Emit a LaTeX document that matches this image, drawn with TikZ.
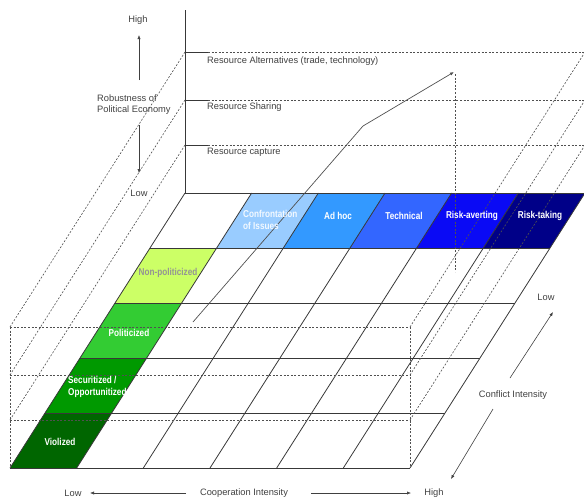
\documentclass[tikz,border=0pt]{standalone}
\usepackage{fontspec}
\setmainfont{Liberation Sans}
\newfontfamily\cellfont{Liberation Sans}[FakeStretch=0.82]
\usetikzlibrary{arrows.meta}
\definecolor{txt}{HTML}{404040}
\definecolor{gridc}{HTML}{383838}
\definecolor{dashc}{HTML}{505050}
\definecolor{bA}{HTML}{99CCFF}
\definecolor{bB}{HTML}{3399FF}
\definecolor{bC}{HTML}{3366FF}
\definecolor{bD}{HTML}{0A0AF5}
\definecolor{bE}{HTML}{000088}
\definecolor{gA}{HTML}{CCFF66}
\definecolor{gB}{HTML}{33CC33}
\definecolor{gC}{HTML}{009900}
\definecolor{gD}{HTML}{006600}
\tikzset{
  gridline/.style={draw=gridc, line width=0.8pt},
  boxdash/.style={draw=dashc, line width=0.6pt, dash pattern=on 2pt off 1.6pt},
  lbl/.style={text=txt, inner sep=0pt, font=\fontsize{9.3}{11}\selectfont},
  cell/.style={inner sep=0pt, font=\cellfont\bfseries\fontsize{10}{12}\selectfont, text=white},
  axarrow/.style={draw=txt, line width=0.6pt, -{Latex[length=4pt,width=3.2pt]}}
}
\begin{document}
\begin{tikzpicture}[x=1pt,y=-1pt]
\useasboundingbox (0,0) rectangle (584,499);
% grid coordinates
\foreach \c in {0,...,6}{
  \foreach \r in {0,...,5}{
    \coordinate (g\c\r) at ({185+66.667*\c-35*\r},{193+55*\r});
  }
}
% blue row
\foreach \c/\d/\col in {1/2/bA, 2/3/bB, 3/4/bC, 4/5/bD, 5/6/bE}{
  \fill[\col] (g\c0) -- (g\d0) -- (g\d1) -- (g\c1) -- cycle;
}
% green column
\foreach \r/\s/\col in {1/2/gA, 2/3/gB, 3/4/gC, 4/5/gD}{
  \fill[\col] (g0\r) -- (g1\r) -- (g1\s) -- (g0\s) -- cycle;
}
% grid lines
\foreach \r in {0,...,5}{ \draw[gridline] (g0\r) -- (g6\r); }
\foreach \c in {0,...,6}{ \draw[gridline] (g\c0) -- (g\c5); }
% vertical axis and level ticks
\coordinate (axtop) at (185,10);
\draw[gridline] (axtop) -- (g00);
\foreach \y/\n in {52/A, 100/B, 145/C}{
  \coordinate (bl\n) at (185,\y);
  \coordinate (bt\n) at (208,\y);
  \coordinate (br\n) at (584,\y);
  \coordinate (brr\n) at (585,\y);
  \coordinate (fl\n) at (10,\y+275);
  \coordinate (fr\n) at (410,\y+275);
  \draw[boxdash] (bt\n) -- (br\n);
  \draw[boxdash] (bl\n) -- (fl\n);
  \draw[boxdash] (brr\n) -- (fr\n);
  \draw[boxdash] (fl\n) -- (fr\n);
  \draw[gridline] (bl\n) -- (bt\n);
}
\draw[boxdash] (flA) -- (g05);
\draw[boxdash] (frA) -- (410,468);
% trajectory arrow and drop line
\coordinate (t1) at (193,322);
\coordinate (t2) at (363,126);
\coordinate (t3) at (454,72);
\coordinate (t4) at (455,272);
\draw[boxdash] (455,74) -- (t4);
\draw[draw=dashc, line width=0.7pt, -{Latex[length=4pt,width=3.2pt]}] (t1) -- (t2) -- (t3);
% level labels
\node[lbl, anchor=west] (resalt) at (207,61) {Resource Alternatives (trade, technology)};
\node[lbl, anchor=west] (resshare) at (207,107) {Resource Sharing};
\node[lbl, anchor=west] (rescap) at (207,152) {Resource capture};
% robustness axis
\node[lbl] (hightop) at (138,20) {High};
\node[lbl, anchor=west, align=left] (robust) at (97,105) {Robustness of\\Political Economy};
\node[lbl] (lowtop) at (139,193) {Low};
\coordinate (ra1) at (139,80);
\coordinate (ra2) at (139,35);
\coordinate (ra3) at (139,125);
\coordinate (ra4) at (139,173);
\draw[axarrow] (ra1) -- (ra2);
\draw[axarrow] (ra3) -- (ra4);
% cooperation axis
\node[lbl] (lowbot) at (73,493) {Low};
\node[lbl] (coop) at (244,493) {Cooperation Intensity};
\node[lbl] (highbot) at (434,493) {High};
\coordinate (ca1) at (186,493);
\coordinate (ca2) at (90,493);
\coordinate (ca3) at (311,493);
\coordinate (ca4) at (411,493);
\draw[axarrow] (ca1) -- (ca2);
\draw[axarrow] (ca3) -- (ca4);
% conflict axis
\node[lbl] (lowright) at (546,297) {Low};
\node[lbl] (conflict) at (513,395) {Conflict Intensity};
\coordinate (fa1) at (510,378);
\coordinate (fa2) at (553,312);
\coordinate (fa3) at (493,409);
\coordinate (fa4) at (451,479);
\draw[axarrow] (fa1) -- (fa2);
\draw[axarrow] (fa3) -- (fa4);
% cell labels
\node[cell, anchor=west, align=left, text=white!88!bA] (confr) at (243,220) {Confrontation\\of Issues};
\node[cell] (adhoc) at (338,216) {Ad hoc};
\node[cell] (tech) at (404,216) {Technical};
\node[cell] (riskav) at (472,216) {Risk-averting};
\node[cell] (risktk) at (540,216) {Risk-taking};
\node[cell, text=black!42] (nonpol) at (168,273) {Non-politicized};
\node[cell] (pol) at (129,333) {Politicized};
\node[cell, anchor=west, align=left] (secur) at (68,387) {Securitized /\\Opportunitized};
\node[cell] (viol) at (60,442) {Violized};
\end{tikzpicture}
\end{document}
